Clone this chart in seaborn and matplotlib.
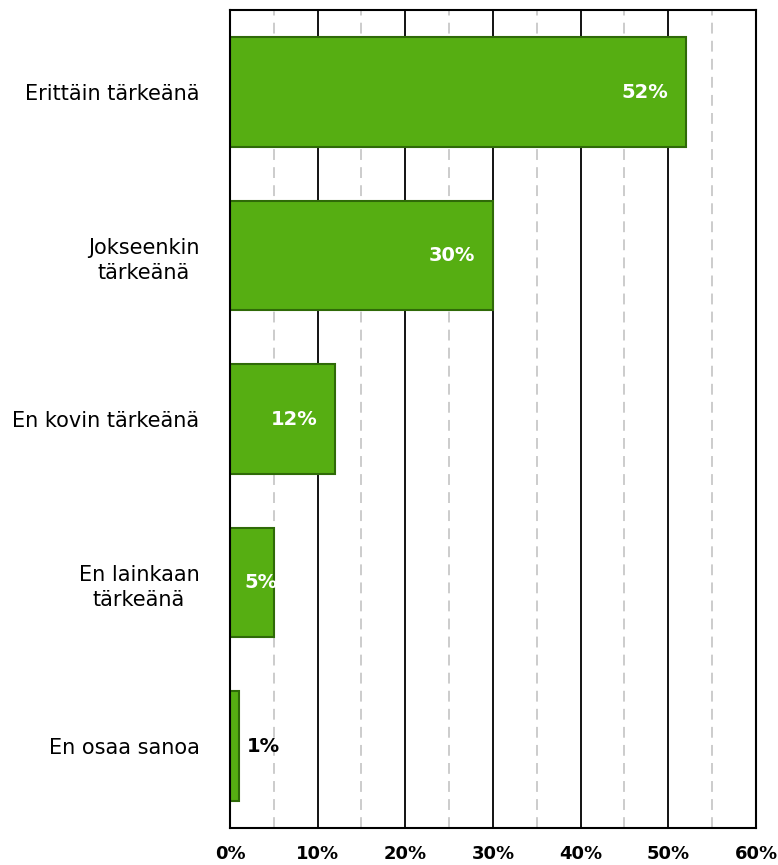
import pandas as pd
import matplotlib.pyplot as plt
import seaborn as sns
from matplotlib.ticker import MultipleLocator, FuncFormatter

# Data
categories = ['Erittäin tärkeänä', 'Jokseenkin\ntärkeänä', 'En kovin tärkeänä',
              'En lainkaan\ntärkeänä', 'En osaa sanoa']
values = [52, 30, 12, 5, 1]
label_colors = ['white', 'white', 'white', 'white', 'black']

df = pd.DataFrame({'Category': categories, 'Value': values})

sns.set_style("white")
plt.rcParams['font.family'] = ['DejaVu Sans']

fig = plt.figure(figsize=(7.78, 8.65), dpi=100)
ax = fig.add_axes([0.2956, 0.0428, 0.9717 - 0.2956, 0.988 - 0.0428])

sns.barplot(data=df, x='Value', y='Category', color='#56AE12', saturation=1,
            width=0.67, edgecolor='#2F6A08', linewidth=1.5, ax=ax)

ax.set_xlim(0, 60)
ax.xaxis.set_major_locator(MultipleLocator(10))
ax.xaxis.set_minor_locator(MultipleLocator(5))
ax.xaxis.set_major_formatter(FuncFormatter(lambda v, p: f'{v:.0f}%'))
ax.grid(axis='x', which='major', color='black', linewidth=1.3, linestyle='-')
ax.grid(axis='x', which='minor', color='#C8C8C8', linewidth=1.3, linestyle=(0, (6, 4)))
ax.set_axisbelow(True)
for s in ax.spines.values():
    s.set_visible(True)
    s.set_color('black')
    s.set_linewidth(1.5)

ax.set_xlabel('')
ax.set_ylabel('')
ax.tick_params(axis='x', length=0, pad=12, labelsize=13, labelcolor='black')
ax.tick_params(axis='y', length=0, pad=22, labelsize=15, labelcolor='black')
for t in ax.get_xticklabels():
    t.set_fontweight('bold')
for t in ax.get_yticklabels():
    t.set_multialignment('center')
    t.set_linespacing(1.35)

# Value labels
for i, (v, c) in enumerate(zip(values, label_colors)):
    if c == 'white' and v >= 10:
        off, ha = -13, 'right'
    elif c == 'white':
        off, ha = 3, 'right'
    else:
        off, ha = 6, 'left'
    ax.annotate(f'{v}%', xy=(v, i), xytext=(off, 0), textcoords='offset points',
                ha=ha, va='center', color=c, fontsize=14, fontweight='bold')

plt.savefig('out.png', dpi=100)
